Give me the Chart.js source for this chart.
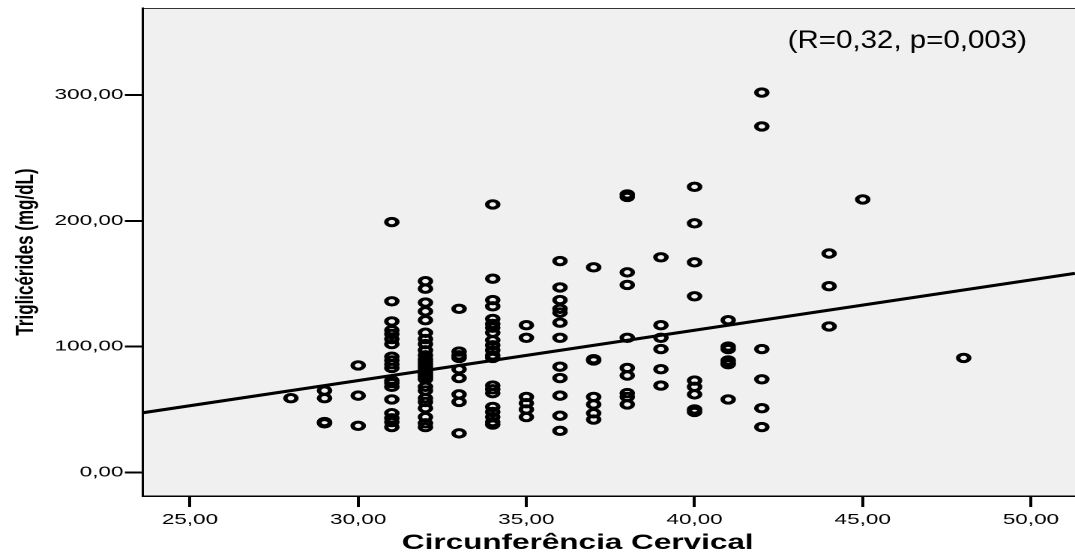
<!DOCTYPE html>
<html>
<head>
<meta charset="utf-8">
<script src="https://cdn.jsdelivr.net/npm/chart.js@4"></script>
<style>
  html, body { margin: 0; padding: 0; background: #fff; }
</style>
</head>
<body>
<!-- drawn at 717 wide and stretched to 1075, like the original export -->
<canvas id="myChart" width="717" height="560" style="width:1075px;height:560px;display:block"></canvas>
<script>
const circumference = [28, 29, 30, 31, 32, 33, 34, 35, 36, 37, 38, 39, 40, 41, 42, 44, 45, 48];
const triglycerides = [
  [59],
  [65, 59, 40, 39],
  [85, 61, 37],
  [199, 136, 120, 113, 110, 106, 102, 92, 89, 86, 83, 73, 71, 68, 58, 47, 43, 40, 36],
  [152, 146, 135, 128, 121, 111, 106, 102, 97, 93, 90, 88, 86, 84, 82, 80, 78, 76, 74, 68, 65, 59, 56, 51, 44, 39, 36],
  [130, 96, 93, 91, 82, 75, 62, 56, 31],
  [213, 154, 137, 132, 122, 118, 115, 111, 105, 101, 97, 93, 91, 69, 66, 63, 52, 48, 44, 40, 38],
  [117, 107, 60, 55, 50, 44],
  [168, 147, 137, 130, 127, 119, 107, 84, 75, 61, 45, 33],
  [163, 90, 89, 60, 54, 47, 42],
  [221, 219, 159, 149, 107, 83, 77, 63, 60, 54],
  [171, 117, 107, 98, 82, 69],
  [227, 198, 167, 140, 73, 68, 62, 50, 48],
  [121, 100, 98, 89, 87, 86, 58],
  [302, 275, 98, 74, 51, 36],
  [174, 148, 116],
  [217],
  [91]
];
const xTicks = [25, 30, 35, 40, 45, 50];
const yTicks = [0, 100, 200, 300];
const xRange = [23.6, 51.31];
const yRange = [-18.8, 369.2];
const fit = [-47, 4.0]; // intercept, slope
const xTitle = 'Circunferência Cervical';
const yTitle = 'Triglicérides (mg/dL)';
const stats = '(R=0,32, p=0,003)';

const points = [];
circumference.forEach((c, i) => {
  triglycerides[i].forEach(t => points.push({x: c, y: t}));
});
const fitPoints = xRange.map(x => ({x: x, y: fit[0] + fit[1] * x}));

const FONT = '"Liberation Sans", Arial, sans-serif';
const fmt = v => Number(v).toFixed(2).replace('.', ',');

const plotBg = {
  id: 'plotBg',
  beforeDraw(chart) {
    const {ctx, chartArea: a} = chart;
    ctx.save();
    ctx.fillStyle = '#f0f0f0';
    ctx.fillRect(a.left, a.top, a.right - a.left, a.bottom - a.top);
    ctx.strokeStyle = '#333';
    ctx.lineWidth = 1;
    ctx.beginPath();
    ctx.moveTo(a.left, a.top + 0.5);
    ctx.lineTo(a.right, a.top + 0.5);
    ctx.stroke();
    ctx.restore();
  }
};

// x title sits a bit left of the plot centre, and the R/p note top right
const extraText = {
  id: 'extraText',
  afterDraw(chart) {
    const ctx = chart.ctx;
    ctx.save();
    ctx.font = 'bold 21px ' + FONT;
    ctx.fillStyle = '#000';
    ctx.textAlign = 'center';
    ctx.textBaseline = 'middle';
    ctx.fillText(xTitle, 578 / 1.5, 543);
    ctx.restore();

    ctx.save();
    ctx.scale(1.18 / 1.5, 1);
    ctx.font = '25px ' + FONT;
    ctx.fillStyle = '#000';
    ctx.textBaseline = 'alphabetic';
    ctx.fillText(stats, 788 / 1.18, 48);
    ctx.restore();
  }
};

const myChart = document.getElementById('myChart');

new Chart(myChart, {
  type: 'scatter',
  data: {
    datasets: [{
      type: 'line',
      data: fitPoints,
      borderColor: '#000',
      borderWidth: 3,
      pointRadius: 0,
      order: 0
    }, {
      data: points,
      pointRadius: 3.7,
      borderWidth: 3,
      borderColor: '#000',
      backgroundColor: 'rgba(0,0,0,0)',
      order: 1
    }]
  },
  options: {
    responsive: false,
    devicePixelRatio: 2,
    animation: false,
    layout: { autoPadding: false, padding: { top: 8, right: 0, left: 0, bottom: 0 } },
    plugins: { legend: { display: false }, tooltip: { enabled: false } },
    scales: {
      x: {
        type: 'linear',
        min: xRange[0],
        max: xRange[1],
        afterFit: s => { s.height = 64; s.paddingLeft = 0; s.paddingRight = 0; },
        afterBuildTicks: s => { s.ticks = xTicks.map(v => ({value: v})); },
        border: { color: '#000', width: 1.5 },
        grid: { drawOnChartArea: false, tickLength: 11, tickColor: '#000', tickWidth: 2 },
        ticks: { color: '#000', font: { family: FONT, size: 15 }, padding: 4, maxRotation: 0, autoSkip: false, callback: fmt }
      },
      y: {
        min: yRange[0],
        max: yRange[1],
        afterFit: s => { s.width = 95.3; s.paddingTop = 0; s.paddingBottom = 0; },
        afterBuildTicks: s => { s.ticks = yTicks.map(v => ({value: v})); },
        border: { color: '#000', width: 1.5 },
        grid: { drawOnChartArea: false, tickLength: 12, tickColor: '#000', tickWidth: 2 },
        ticks: { color: '#000', font: { family: FONT, size: 15 }, padding: 1, callback: fmt },
        title: { display: true, text: yTitle, color: '#000',
                 font: { family: FONT, size: 17, weight: 'bold' }, padding: { top: 7, bottom: 0 } }
      }
    }
  },
  plugins: [plotBg, extraText]
});
</script>
</body>
</html>
